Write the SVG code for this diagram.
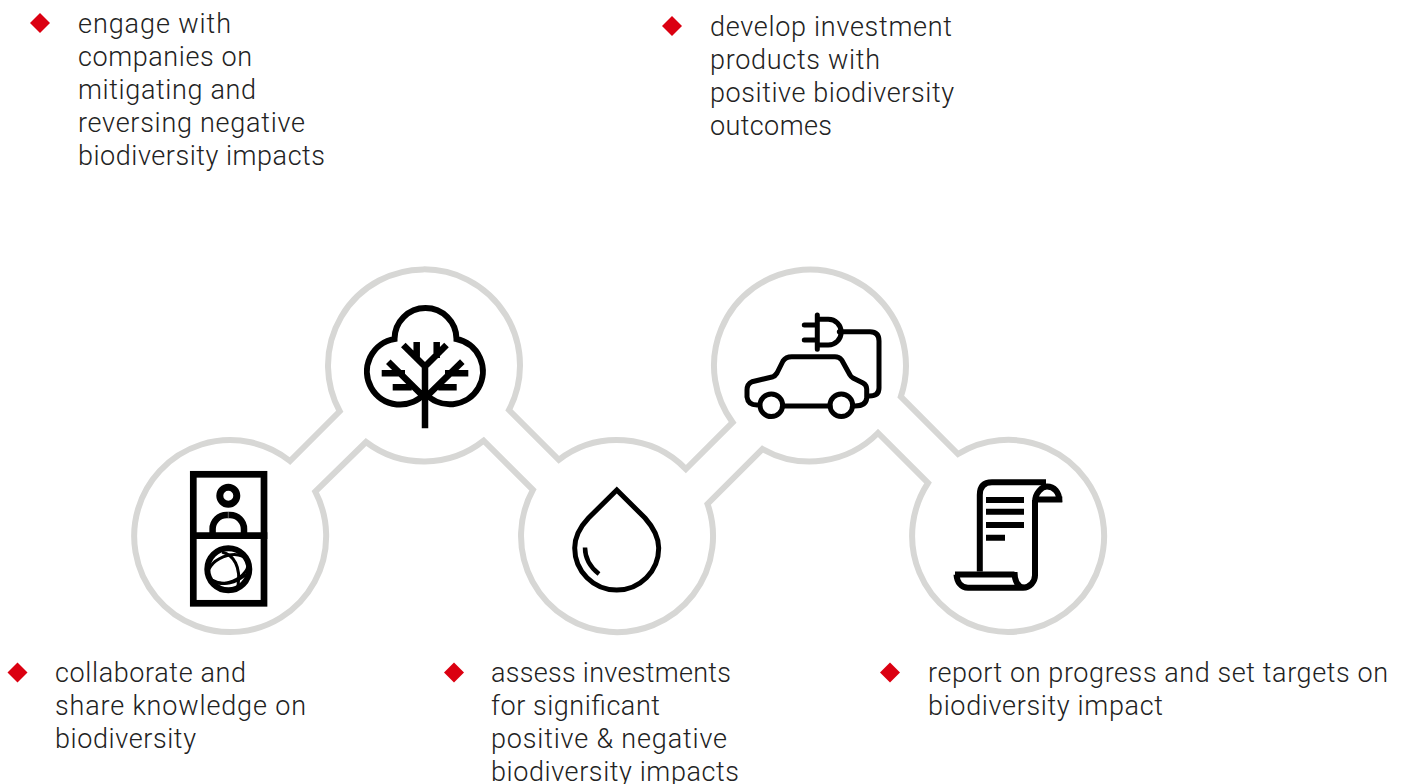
<svg xmlns="http://www.w3.org/2000/svg" width="1407" height="784" viewBox="0 0 1407 784">
<style>
.t{font-family:"Roboto","Liberation Sans",sans-serif;font-weight:300;font-size:27px;fill:#222;transform:translateY(.5px)}
.d{fill:#db0011}
.i{fill:none;stroke:#000;stroke-width:6}
.c{fill:none;stroke:#000;stroke-width:5;stroke-linecap:round;stroke-linejoin:round}
.o{fill:#fff;stroke:#d7d7d5;stroke-width:6;stroke-linejoin:miter}
</style>
<rect width="1407" height="784" fill="#fff"/>
<g id="connectors">
<path class="o" d="M290 461A96 96 0 1 0 315.3 491.7L366 442A96 96 0 0 0 483.7 440.7L532.9 489.9A96 96 0 1 0 707.5 504L762.5 449A96 96 0 0 0 878 433L928 483A96 96 0 1 0 958 454L900.8 396.7A96 96 0 1 0 732.6 422.4L685.9 469.1A96 96 0 0 0 558.8 459.8L509 410A96 96 0 1 0 339.7 411.3Z"/>
</g>
<g id="node-collaborate">
<g class="i"><rect x="193.3" y="474.3" width="70.7" height="129" stroke-width="6.7"/><path d="M190 535.7H267.3" stroke-width="6.7"/><circle cx="228.300" cy="495.700" r="8.500" stroke-width="7"/><path d="M212.600 533V529A14 14 0 0 1 226.600 515H230A14 14 0 0 1 244 529V533" stroke-width="6.500"/><circle cx="228.300" cy="569.300" r="21"/></g>
<g fill="none" stroke="#000" stroke-width="3"><ellipse cx="228" cy="569" rx="21" ry="13" transform="rotate(-22 228 569)"/><path d="M222 552C234 555 241 567 238 586M212 580C222 586 236 584 246 574"/></g>
<path fill="none" stroke="#888" stroke-width=".7" d="M228.300 512V518"/>
<text class="t" x="55" y="681" textLength="191">collaborate and</text><text class="t" x="55" y="714" textLength="251">share knowledge on</text><text class="t" x="55" y="747" textLength="141">biodiversity</text>
<path class="d" d="M17.500 662.500L27.500 672.500L17.500 682.500L7.500 672.500Z"/>
</g>
<g id="node-engage">
<g class="i"><path d="M425 393A33 33 0 1 1 394.500 339A31 31 0 0 1 456.500 339A33 33 0 1 1 425 393Z"/><path d="M403.300 345L425 366.500L446.500 345M416.700 342V358M436.700 342V358M425 366V428.300M388.300 361.700L425 398L462.300 361.700M381.700 373.300H405M392.700 387.300H411.700M445 373.300H468.300M438.300 387.300H456.700" stroke-width="6.500"/></g>
<text class="t" x="78" y="32" textLength="153">engage with</text><text class="t" x="78" y="65" textLength="174">companies on</text><text class="t" x="78" y="98" textLength="178">mitigating and</text><text class="t" x="78" y="131" textLength="227">reversing negative</text><text class="t" x="78" y="164" textLength="247">biodiversity impacts</text>
<path class="d" d="M40 13L50 23L40 33L30 23Z"/>
</g>
<g id="node-assess">
<path class="c" style="stroke-linejoin:miter" d="M616.800 490L645 518C653 527 658.700 537 658.700 548A42 42 0 0 1 574.700 548C574.700 537 580 527 588.500 518Z"/>
<path class="c" style="stroke-linecap:butt;stroke-width:4.500" d="M585 547.500C585 558 590 567 599 574"/>
<text class="t" x="491" y="681" textLength="240">assess investments</text><text class="t" x="491" y="714" textLength="169">for significant</text><text class="t" x="491" y="747" textLength="236">positive &amp; negative</text><text class="t" x="491" y="780" textLength="248">biodiversity impacts</text>
<path class="d" d="M454 662.500L464 672.500L454 682.500L444 672.500Z"/>
</g>
<g id="node-develop">
<circle class="c" cx="771.300" cy="405.300" r="11.300"/><circle class="c" cx="841.300" cy="405.300" r="11.300"/>
<path class="c" d="M757 405Q748 405 747 397V390Q747 384 752 381.700L773 376.700Q775 376 777 373L783 361Q786 356.700 791.700 356.700H835Q839 356.700 841.700 360L850 375Q851 377 853 378L863 383Q866.700 385 866.700 389V398Q866 406 855 406M783 406H830"/>
<path class="c" d="M839.300 331.700H870Q879 331.700 879 341V388Q879 396 869.300 396"/>
<path class="c" d="M817.300 315V349.300M817.300 319.300H828.300A12.700 12.700 0 0 1 828.300 345H817.300M804.300 325H817M804.300 340H817"/>
<text class="t" x="710" y="35" textLength="242">develop investment</text><text class="t" x="710" y="68" textLength="170">products with</text><text class="t" x="710" y="101" textLength="244">positive biodiversity</text><text class="t" x="710" y="134" textLength="122">outcomes</text>
<path class="d" d="M672 16L682 26L672 36L662 26Z"/>
</g>
<g id="node-report">
<path class="i" d="M979.800 571.500V495Q979.800 482.300 992 482.300H1046"/>
<path class="i" d="M955 574.500H1014.500M1035 500V575A12.500 12.500 0 0 1 1023 587.800H968C961 587.800 957 582 956.500 574.500M1014.500 572C1014.500 581 1018 587 1024 587.800"/>
<path class="i" d="M1035 502C1035 493 1042 486.500 1047 486.500C1054 486.500 1059.500 492 1059.500 502M1035 499.500H1062.300"/>
<path class="i" d="M986 500H1024M986 511.700H1024M986 525H1024M986 537.700H1005"/>
<text class="t" x="928" y="681" textLength="460">report on progress and set targets on</text><text class="t" x="928" y="714" textLength="235">biodiversity impact</text>
<path class="d" d="M890 662.500L900 672.500L890 682.500L880 672.500Z"/>
</g>
</svg>
